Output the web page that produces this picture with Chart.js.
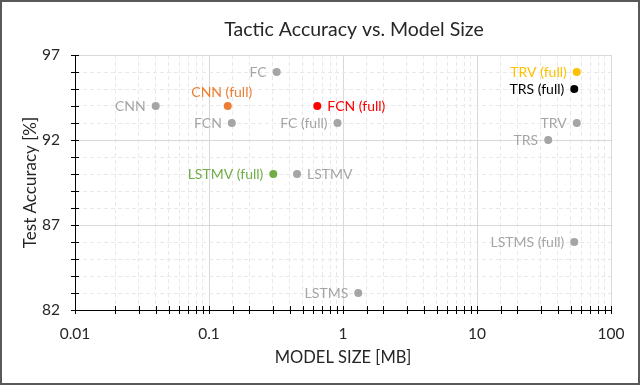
<!DOCTYPE html>
<html>
<head>
<meta charset="utf-8">
<script src="https://cdn.jsdelivr.net/npm/chart.js@4/dist/chart.umd.min.js"></script>
<style>
  html, body { margin: 0; padding: 0; background: #fff; }
  #wrap { width: 640px; height: 385px; position: relative; }
</style>
</head>
<body>
<div id="wrap"><canvas id="chart" width="640" height="385"></canvas></div>
<script>
// Data
const models = ['FC', 'CNN', 'CNN (full)', 'FCN (full)', 'FCN', 'FC (full)', 'LSTMV (full)', 'LSTMV',
  'TRV (full)', 'TRS (full)', 'TRV', 'TRS', 'LSTMS (full)', 'LSTMS'];
const sizesMB = [0.32, 0.040, 0.138, 0.643, 0.148, 0.91, 0.302, 0.454, 55.5, 53.2, 55.5, 34.0, 53.2, 1.30];
const accuracies = [96, 94, 94, 94, 93, 93, 90, 90, 96, 95, 93, 92, 86, 83];
const xTickLabels = ['0.01', '0.1', '1', '10', '100'];
const yTickLabels = [82, 87, 92, 97];

// Styles (kept apart from the data)
const GRAY = '#a5a5a5';
const pointColors = [GRAY, GRAY, '#ed7d31', '#ff0000', GRAY, GRAY, '#70ad47', GRAY,
  '#ffc000', '#000000', GRAY, GRAY, GRAY, GRAY];
const labelSide = {
  'CNN (full)': 'above',
  'FCN (full)': 'right',
  'LSTMV': 'right'
};
const FONT = 'Lato, "Open Sans", sans-serif';
const TEXT = '#262626';

function isDecade(v) {
  const l = Math.log10(v);
  return Math.abs(l - Math.round(l)) < 1e-6;
}

// Crossing tick marks on both axes, plus outer frame and title
const decorations = {
  id: 'decorations',
  beforeDraw(chart) {
    const ctx = chart.ctx;
    ctx.save();
    ctx.fillStyle = '#fff';
    ctx.fillRect(0, 0, chart.width, chart.height);
    ctx.restore();
  },
  afterDraw(chart) {
    const ctx = chart.ctx;
    const xs = chart.scales.x, ys = chart.scales.y;
    const area = chart.chartArea;
    ctx.save();
    ctx.strokeStyle = '#000';
    ctx.lineWidth = 1;
    ctx.beginPath();
    xs.ticks.forEach((t, i) => {
      const px = Math.round(xs.getPixelForTick(i)) + 0.5;
      ctx.moveTo(px, area.bottom - 4);
      ctx.lineTo(px, area.bottom + 4);
    });
    ys.ticks.forEach((t, i) => {
      const py = Math.round(ys.getPixelForTick(i)) + 0.5;
      ctx.moveTo(area.left - 4, py);
      ctx.lineTo(area.left + 4, py);
    });
    ctx.stroke();

    // title
    ctx.fillStyle = TEXT;
    ctx.font = '19.5px ' + FONT;
    ctx.textAlign = 'center';
    ctx.textBaseline = 'middle';
    ctx.fillText('Tactic Accuracy vs. Model Size', 354, 30);

    // frame
    ctx.strokeStyle = '#595959';
    ctx.lineWidth = 2;
    ctx.strokeRect(1, 1, chart.width - 2, chart.height - 2);
    ctx.restore();
  }
};

// Text labels beside each point
const pointLabels = {
  id: 'pointLabels',
  afterDatasetsDraw(chart) {
    const ctx = chart.ctx;
    const meta = chart.getDatasetMeta(0);
    ctx.save();
    ctx.font = '14px ' + FONT;
    ctx.textBaseline = 'middle';
    meta.data.forEach((pt, i) => {
      const side = labelSide[models[i]] || 'left';
      ctx.fillStyle = pointColors[i];
      if (side === 'left') {
        ctx.textAlign = 'right';
        ctx.fillText(models[i], pt.x - 10, pt.y);
      } else if (side === 'right') {
        ctx.textAlign = 'left';
        ctx.fillText(models[i], pt.x + 10, pt.y);
      } else {
        ctx.textAlign = 'center';
        ctx.fillText(models[i], pt.x - 6, pt.y - 14);
      }
    });
    ctx.restore();
  }
};

const chart = new Chart(document.getElementById('chart'), {
  type: 'scatter',
  data: {
    datasets: [{
      label: 'Models',
      data: models.map((m, i) => ({ x: sizesMB[i], y: accuracies[i] })),
      pointBackgroundColor: pointColors,
      pointBorderWidth: 0,
      pointRadius: 4,
      pointHoverRadius: 4
    }]
  },
  options: {
    responsive: false,
    animation: false,
    layout: { padding: { top: 55, right: 29, left: 0, bottom: 0 } },
    plugins: {
      legend: { display: false },
      tooltip: { enabled: false },
      title: { display: false }
    },
    scales: {
      x: {
        type: 'logarithmic',
        min: 0.01,
        max: 100,
        afterFit(scale) { scale.height = 75; },
        border: {
          color: '#000',
          width: 1,
          dash: ctx => (ctx.tick && !isDecade(ctx.tick.value)) ? [4, 3] : []
        },
        grid: {
          drawTicks: false,
          color: ctx => (ctx.tick && isDecade(ctx.tick.value)) ? '#d9d9d9' : '#e9e9e9'
        },
        ticks: {
          autoSkip: false,
          maxRotation: 0,
          padding: 15,
          color: TEXT,
          font: { family: FONT, size: 15.5 },
          callback: v => isDecade(v) ? xTickLabels[Math.round(Math.log10(v)) + 2] : ''
        },
        title: {
          display: true,
          text: 'MODEL SIZE [MB]',
          color: TEXT,
          font: { family: FONT, size: 16.5 },
          padding: { top: 17, bottom: 17 }
        }
      },
      y: {
        min: 82,
        max: 97,
        afterFit(scale) { scale.width = 75; },
        border: {
          color: '#000',
          width: 1,
          dash: ctx => (ctx.tick && !yTickLabels.includes(ctx.tick.value)) ? [4, 3] : []
        },
        grid: {
          drawTicks: false,
          color: ctx => (ctx.tick && yTickLabels.includes(ctx.tick.value)) ? '#d9d9d9' : '#e9e9e9'
        },
        ticks: {
          stepSize: 1,
          autoSkip: false,
          padding: 15,
          color: TEXT,
          font: { family: FONT, size: 15.5 },
          callback: v => yTickLabels.includes(v) ? String(v) : ''
        },
        title: {
          display: true,
          text: 'Test Accuracy [%]',
          color: TEXT,
          font: { family: FONT, size: 17 },
          padding: { top: 20, bottom: 20 }
        }
      }
    }
  },
  plugins: [decorations, pointLabels]
});
</script>
</body>
</html>
